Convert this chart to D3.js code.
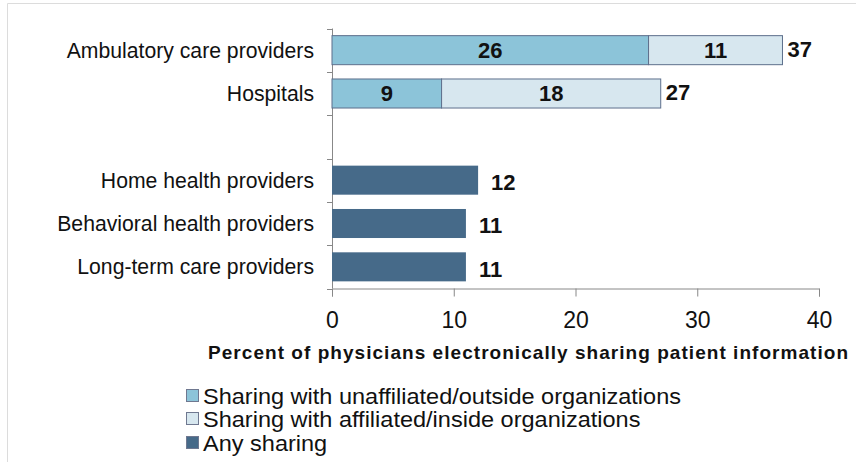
<!DOCTYPE html>
<html>
<head>
<meta charset="utf-8">
<script src="https://cdn.jsdelivr.net/npm/d3@7/dist/d3.min.js"></script>
<style>
  html, body { margin: 0; padding: 0; background: #fff; }
  svg { display: block; font-family: "Liberation Sans", Arial, sans-serif; }
</style>
</head>
<body>
<svg id="chart" width="856" height="462"></svg>
<script>
// Categories (an empty slot separates the two groups)
const categories = [
  "Ambulatory care providers",
  "Hospitals",
  "",
  "Home health providers",
  "Behavioral health providers",
  "Long-term care providers"
];
// Stacked series for the first group
const unaffiliated = [26, 9, null, null, null, null];
const affiliated   = [11, 18, null, null, null, null];
// Single series for the second group
const anySharing   = [null, null, null, 12, 11, 11];
// Axis ticks
const xTicks = [0, 10, 20, 30, 40];
const seriesNames = [
  "Sharing with unaffiliated/outside organizations",
  "Sharing with affiliated/inside organizations",
  "Any sharing"
];
const seriesColors = ["#8cc4d9", "#d7e7ef", "#466a89"];

const svg = d3.select("#chart");

// light frame
svg.append("line").attr("x1", 7.5).attr("x2", 856).attr("y1", 3.5).attr("y2", 3.5)
  .attr("stroke", "#dcdcdc").attr("stroke-width", 1);
svg.append("line").attr("x1", 7.5).attr("x2", 7.5).attr("y1", 3.5).attr("y2", 462)
  .attr("stroke", "#dcdcdc").attr("stroke-width", 1);

const x = d3.scaleLinear().domain([0, 40]).range([332, 819]);
const plotTop = 28.5, plotBottom = 288.5;
const y = d3.scaleBand().domain(d3.range(categories.length)).range([plotTop, plotBottom])
  .paddingInner(0.33).paddingOuter(0.165);

// Y axis with ticks at category boundaries
const step = y.step();
const yAxisG = svg.append("g");
yAxisG.append("line").attr("x1", 332.5).attr("x2", 332.5).attr("y1", plotTop).attr("y2", plotBottom)
  .attr("stroke", "#888").attr("stroke-width", 1);
yAxisG.selectAll("line.tk").data(d3.range(categories.length + 1)).join("line")
  .attr("class", "tk")
  .attr("x1", 327).attr("x2", 332.5)
  .attr("y1", i => Math.round(plotTop + i * step) + 0.5)
  .attr("y2", i => Math.round(plotTop + i * step) + 0.5)
  .attr("stroke", "#888");
yAxisG.selectAll("text").data(categories).join("text")
  .attr("x", 314)
  .attr("y", (d, i) => y(i) + y.bandwidth() / 2)
  .attr("dy", "0.35em")
  .attr("text-anchor", "end")
  .attr("font-size", 21.2)
  .attr("fill", "#111")
  .text(d => d);

// X axis
const xAxis = d3.axisBottom(x).tickValues(xTicks).tickSize(8).tickPadding(15).tickSizeOuter(8);
const xg = svg.append("g").attr("transform", `translate(0,${plotBottom})`).call(xAxis);
xg.select(".domain").attr("stroke", "#888");
xg.selectAll(".tick line").attr("stroke", "#888");
xg.selectAll(".tick text").attr("font-size", 23).attr("fill", "#111")
  .attr("font-family", "Liberation Sans, Arial, sans-serif");

svg.append("text")
  .attr("x", 208).attr("y", 359)
  .attr("text-anchor", "start")
  .attr("font-size", 19).attr("font-weight", "bold").attr("fill", "#111")
  .attr("textLength", 640).attr("lengthAdjust", "spacing")
  .text("Percent of physicians electronically sharing patient information");

// Bars
const barStroke = "#5d6f8c";
const stacked = categories.map((c, i) => ({ i, a: unaffiliated[i], b: affiliated[i] }))
  .filter(d => d.a != null);

const gBars = svg.append("g");
gBars.selectAll("rect.un").data(stacked).join("rect")
  .attr("x", d => x(0)).attr("y", d => y(d.i))
  .attr("width", d => x(d.a) - x(0)).attr("height", y.bandwidth())
  .attr("fill", seriesColors[0]).attr("stroke", barStroke).attr("stroke-width", 1);
gBars.selectAll("rect.af").data(stacked).join("rect")
  .attr("x", d => x(d.a)).attr("y", d => y(d.i))
  .attr("width", d => x(d.a + d.b) - x(d.a)).attr("height", y.bandwidth())
  .attr("fill", seriesColors[1]).attr("stroke", barStroke).attr("stroke-width", 1);

const anyData = categories.map((c, i) => ({ i, v: anySharing[i] })).filter(d => d.v != null);
gBars.selectAll("rect.any").data(anyData).join("rect")
  .attr("x", x(0)).attr("y", d => y(d.i))
  .attr("width", d => x(d.v) - x(0)).attr("height", y.bandwidth())
  .attr("fill", seriesColors[2]);

// Value labels
const lbl = svg.append("g").attr("font-weight", "bold").attr("font-size", 22).attr("fill", "#111");
stacked.forEach(d => {
  const cy = y(d.i) + y.bandwidth() / 2;
  lbl.append("text").attr("x", (x(0) + x(d.a)) / 2).attr("y", cy)
    .attr("dy", "0.36em").attr("text-anchor", "middle").text(d.a);
  lbl.append("text").attr("x", (x(d.a) + x(d.a + d.b)) / 2).attr("y", cy)
    .attr("dy", "0.36em").attr("text-anchor", "middle").text(d.b);
  lbl.append("text").attr("x", x(d.a + d.b) + 5).attr("y", cy - 1)
    .attr("dy", "0.36em").attr("text-anchor", "start").text(d.a + d.b);
});
anyData.forEach(d => {
  lbl.append("text").attr("x", x(d.v) + 13).attr("y", y(d.i) + y.bandwidth() / 2 + 2)
    .attr("dy", "0.36em").attr("text-anchor", "start").text(d.v);
});

// Legend (text slightly widened to the legend's set width)
const legend = svg.append("g");
const legendY = [396, 419, 443];
seriesNames.forEach((name, k) => {
  legend.append("rect").attr("x", 186.5).attr("y", legendY[k] - 6.5).attr("width", 12).attr("height", 12)
    .attr("fill", seriesColors[k]).attr("stroke", "#6f7890").attr("stroke-width", 1);
  const t = legend.append("text").attr("x", 203).attr("y", legendY[k]).attr("dy", "0.35em")
    .attr("font-size", 22.5).attr("fill", "#111").text(name);
  const w = t.node().getComputedTextLength();
  t.attr("textLength", w * 1.045).attr("lengthAdjust", "spacingAndGlyphs");
});
</script>
</body>
</html>
